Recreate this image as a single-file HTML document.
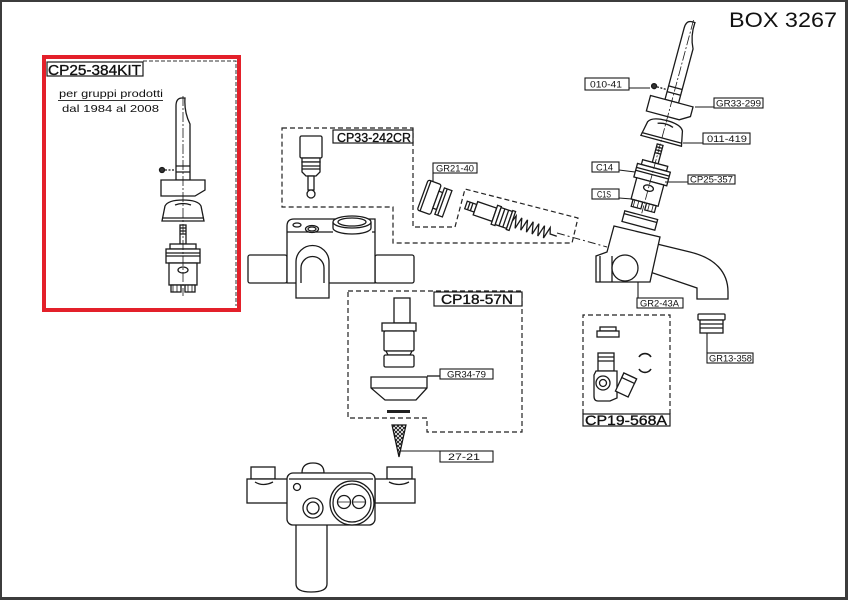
<!DOCTYPE html>
<html><head><meta charset="utf-8">
<style>
html,body{margin:0;padding:0;background:#fff;}
svg{display:block;}
text{font-family:"Liberation Sans",Arial,sans-serif;fill:#111;}
.big{stroke:#111;stroke-width:0.35;}
</style></head><body>
<svg width="848" height="600" viewBox="0 0 848 600" xmlns="http://www.w3.org/2000/svg" font-family="Liberation Sans, sans-serif">
<defs>
<pattern id="hatch" width="4" height="4" patternUnits="userSpaceOnUse">
<path d="M0,0 L4,4 M4,0 L0,4" stroke="#111" stroke-width="0.9"/>
</pattern>
<g id="kit" fill="#fff" stroke="#1a1a1a" stroke-width="1.3">
 <path d="M-7,82 V8 Q-7,0 -1,0 L2,0 Q1,14 7,26 V82 Z"/>
 <path d="M-7,68 H7 M-7,74 H7" fill="none"/>
 <circle cx="-21" cy="72" r="2.5" fill="#333"/>
 <path d="M-18,72 H-7" stroke-dasharray="2,1.5" fill="none"/>
 <path d="M-22,82 H22 V92 L12,98 H-22 Z"/>
 <path d="M-21,123 L-18,108 Q-15,102 0,102 Q15,102 18,108 L21,123 Z"/>
 <path d="M-21,120 H21" fill="none"/>
 <path d="M-8,107 Q0,104 8,107" fill="none"/>
 <rect x="-3" y="127" width="6" height="19"/>
 <path d="M-3,130 H3 M-3,133 H3 M-3,136 H3" fill="none"/>
 <rect x="-13" y="146" width="26" height="5"/>
 <rect x="-17" y="151" width="34" height="14"/>
 <path d="M-17,155 H17 M-17,158 H17" fill="none"/>
 <rect x="-14" y="165" width="28" height="22"/>
 <ellipse cx="0" cy="172" rx="5" ry="3"/>
 <rect x="-12" y="187" width="10" height="7"/>
 <rect x="2" y="187" width="10" height="7"/>
 <path d="M-10,187 V194 M-6,187 V194 M5,187 V194 M9,187 V194" fill="none" stroke-width="0.8"/>
 <path d="M0,-2 V198" fill="none" stroke-dasharray="10,2,2,2" stroke-width="0.8"/>
</g>
</defs>

<rect x="0" y="0" width="848" height="600" fill="#fff"/>

<!-- LEFT KIT -->
<path d="M143,61 H236 V306" fill="none" stroke="#333" stroke-width="1" stroke-dasharray="4,2"/>
<rect x="44" y="57" width="195" height="253" fill="none" stroke="#e3202a" stroke-width="4"/>
<rect x="47" y="62" width="96" height="14" fill="#fff" stroke="#1a1a1a" stroke-width="1.2"/>
<text class="big" x="48" y="75" font-size="15" textLength="93" lengthAdjust="spacingAndGlyphs">CP25-384KIT</text>
<text x="59" y="97" font-size="10.5" textLength="104" lengthAdjust="spacingAndGlyphs">per gruppi prodotti</text>
<line x1="58" y1="100.5" x2="163" y2="100.5" stroke="#333" stroke-width="1"/>
<text x="62" y="112" font-size="10.5" textLength="97" lengthAdjust="spacingAndGlyphs">dal 1984 al 2008</text>
<use href="#kit" transform="translate(183,98)"/>

<!-- RIGHT KIT -->
<use href="#kit" transform="translate(693,22) rotate(15)"/>
<g transform="translate(693,22) rotate(15)" fill="#fff" stroke="#1a1a1a" stroke-width="1.3">
 <path d="M-17,200 H17 V211 H-17 Z"/>
 <path d="M-17,203 H17" fill="none"/>
</g>
<text x="729" y="27" font-size="21" textLength="108" lengthAdjust="spacingAndGlyphs">BOX 3267</text>

<!-- spout body -->
<g fill="#fff" stroke="#1a1a1a" stroke-width="1.3">
 <path d="M657,244 L690,252 C715,258 728,272 728,292 L728,299 L697,299 L697,288 L650,272 Z"/>
 <path d="M614,226 L660,237 L650,282 L596,282 L596,256 L607,252 Z"/>
 <path d="M600,256 V282 M612,256 V282" fill="none"/>
 <circle cx="625" cy="268" r="13"/>
</g>

<!-- right labels -->
<g fill="#fff" stroke="#1a1a1a" stroke-width="1.1">
 <rect x="585" y="78" width="44" height="12"/>
 <rect x="714" y="98" width="49" height="10"/>
 <rect x="703" y="133" width="47" height="11"/>
 <rect x="592" y="162" width="27" height="10"/>
 <rect x="688" y="175" width="47" height="9"/>
 <rect x="592" y="189" width="27" height="10"/>
 <rect x="637" y="298" width="46" height="10"/>
 <path d="M629,88 H650 M695,107 H714 M683,143 H703 M619,170 L635,172 M665,182 H688 M619,198 L632,199 M638,282 V298" fill="none"/>
</g>
<g font-size="9.5">
 <text x="590" y="87.5" textLength="32" lengthAdjust="spacingAndGlyphs">010-41</text>
 <text x="716" y="106.5" textLength="45" lengthAdjust="spacingAndGlyphs">GR33-299</text>
 <text x="707" y="142" textLength="40" lengthAdjust="spacingAndGlyphs">011-419</text>
 <text x="596" y="170.5" textLength="17" lengthAdjust="spacingAndGlyphs">C14</text>
 <text x="690" y="182.5" textLength="43" lengthAdjust="spacingAndGlyphs">CP25-357</text>
 <text x="597" y="197.5" textLength="14" lengthAdjust="spacingAndGlyphs">C1S</text>
 <text x="640" y="306.5" textLength="39" lengthAdjust="spacingAndGlyphs">GR2-43A</text>
</g>

<!-- CP33-242CR group -->
<path d="M282,128 H413 V227 H455 L465,189 L578,218 L572,243 H393 V207 H282 Z" fill="none" stroke="#222" stroke-width="1.2" stroke-dasharray="5,3"/>
<rect x="333" y="130" width="80" height="13" fill="#fff" stroke="#1a1a1a" stroke-width="1.2"/>
<text class="big" x="337" y="142" font-size="13" textLength="74" lengthAdjust="spacingAndGlyphs">CP33-242CR</text>
<g fill="#fff" stroke="#1a1a1a" stroke-width="1.3">
 <rect x="300" y="136" width="22" height="22" rx="1.5"/>
 <rect x="302" y="158" width="18" height="4"/>
 <path d="M302,162 H320 V172 L316,176 H306 L302,172 Z"/>
 <path d="M302,166 H320 M302,169 H320" fill="none"/>
 <rect x="308" y="176" width="6" height="14"/>
 <circle cx="311" cy="194" r="4"/>
</g>
<path d="M557,233 L607,247" fill="none" stroke="#222" stroke-width="1" stroke-dasharray="8,3,2,3"/>

<!-- GR21-40 -->
<rect x="433" y="163" width="44" height="10" fill="#fff" stroke="#1a1a1a" stroke-width="1.1"/>
<text x="436" y="171.5" font-size="9.5" textLength="38" lengthAdjust="spacingAndGlyphs">GR21-40</text>
<path d="M433,173 V185" stroke="#1a1a1a" stroke-width="1.1"/>
<g transform="translate(434,199) rotate(20)" fill="#fff" stroke="#1a1a1a" stroke-width="1.3">
 <rect x="-12" y="-16" width="14" height="32" rx="2"/>
 <rect x="2" y="-9" width="4" height="18"/>
 <rect x="6" y="-14" width="8" height="28"/>
 <path d="M9,-14 V14 M-9,-16 V16" fill="none"/>
</g>

<!-- spring assembly -->
<g transform="translate(466,205) rotate(19)" fill="#fff" stroke="#1a1a1a" stroke-width="1.3">
 <rect x="0" y="-4" width="10" height="8"/>
 <path d="M3,-4 V4 M6,-4 V4" fill="none"/>
 <rect x="10" y="-7" width="20" height="14"/>
 <rect x="30" y="-10" width="4" height="20"/>
 <rect x="34" y="-9" width="12" height="18"/>
 <path d="M38,-9 V9 M42,-9 V9" fill="none"/>
 <rect x="46" y="-10" width="3" height="20"/>
 <polyline fill="none" points="49,0 51,-6 54,6 57,-6 60,6 63,-6 66,6 69,-6 72,6 75,-6 78,6 81,-6 84,6 87,-6 89,0 96,0"/>
</g>

<!-- main top body -->
<g fill="#fff" stroke="#1a1a1a" stroke-width="1.3">
 <rect x="248" y="255" width="39" height="28" rx="2"/>
 <rect x="375" y="255" width="39" height="28" rx="2"/>
 <path d="M287,283 V226 Q287,219 294,219 H375 V283 Z"/>
 <path d="M287,232 H333 M372,232 H375" fill="none"/>
 <path d="M333,222 V228 A19,6 0 0 0 371,228 V222" />
 <ellipse cx="352" cy="222" rx="19" ry="6"/>
 <ellipse cx="352" cy="222" rx="14" ry="4"/>
 <ellipse cx="297" cy="225" rx="4" ry="2"/>
 <ellipse cx="312" cy="229" rx="6.5" ry="3.5"/>
 <ellipse cx="312" cy="229" rx="4" ry="2"/>
 <path d="M296,298 V262 A16.5,16.5 0 0 1 329,262 V298 Z"/>
 <path d="M301,283 V268 A11.5,11.5 0 0 1 324,268 V283" fill="none"/>
</g>

<!-- CP18-57N -->
<path d="M348,291 H522 V432 H427 V418 H348 Z" fill="none" stroke="#222" stroke-width="1.2" stroke-dasharray="5,3"/>
<rect x="434" y="292" width="88" height="14" fill="#fff" stroke="#1a1a1a" stroke-width="1.2"/>
<text class="big" x="441" y="304" font-size="14" textLength="72" lengthAdjust="spacingAndGlyphs">CP18-57N</text>
<g fill="#fff" stroke="#1a1a1a" stroke-width="1.3">
 <rect x="394" y="298" width="16" height="25"/>
 <rect x="382" y="323" width="34" height="8"/>
 <rect x="384" y="331" width="30" height="20" rx="1.5"/>
 <path d="M386,351 H412 L410,355 H388 Z"/>
 <rect x="384" y="355" width="30" height="12" rx="1.5"/>
 <path d="M371,377 H427 V388 L416,400 H385 L371,388 Z"/>
 <path d="M371,388 H427" fill="none"/>
 <path d="M427,376 H440" fill="none"/>
</g>
<rect x="387" y="410" width="23" height="3" fill="#222"/>
<path d="M392,425 H406 L399,457 Z" fill="url(#hatch)" stroke="#111" stroke-width="1.2"/>
<path d="M400,451 H440" stroke="#1a1a1a" stroke-width="1.1"/>
<rect x="440" y="369" width="53" height="10" fill="#fff" stroke="#1a1a1a" stroke-width="1.1"/>
<text x="447" y="377.5" font-size="9.5" textLength="39" lengthAdjust="spacingAndGlyphs">GR34-79</text>
<rect x="440" y="451" width="53" height="11" fill="#fff" stroke="#1a1a1a" stroke-width="1.1"/>
<text x="448" y="460" font-size="9.5" textLength="32" lengthAdjust="spacingAndGlyphs">27-21</text>

<!-- CP19-568A -->
<path d="M583,414 V315 H670 V414" fill="none" stroke="#222" stroke-width="1.2" stroke-dasharray="5,3"/>
<rect x="583" y="414" width="87" height="12" fill="#fff" stroke="#1a1a1a" stroke-width="1.2"/>
<text class="big" x="585" y="425" font-size="14" textLength="82" lengthAdjust="spacingAndGlyphs">CP19-568A</text>
<g fill="#fff" stroke="#1a1a1a" stroke-width="1.3">
 <rect x="600" y="327" width="16" height="4"/>
 <rect x="597" y="331" width="22" height="6"/>
 <rect x="598" y="353" width="16" height="18"/>
 <path d="M598,357 H614 M598,361 H614" fill="none"/>
 <path d="M596,371 H617 V398 L610,401 H598 Q594,401 594,396 V375 Z"/>
 <circle cx="603" cy="383" r="7"/>
 <circle cx="603" cy="383" r="3.5"/>
 <g transform="translate(626,385) rotate(25)">
  <rect x="-7" y="-10" width="14" height="20"/>
  <rect x="-7" y="-10" width="14" height="5"/>
 </g>
 <path d="M639,357 A7,7 0 0 1 651,357 M651,369 A7,7 0 0 1 639,369" fill="none" stroke-width="1.6"/>
</g>

<!-- GR13-358 -->
<g fill="#fff" stroke="#1a1a1a" stroke-width="1.3">
 <rect x="698" y="314" width="27" height="6" rx="1"/>
 <rect x="700" y="320" width="23" height="13"/>
 <path d="M700,324 H723 M700,328 H723" fill="none"/>
 <path d="M707,333 V353" fill="none" stroke-width="1.1"/>
 <rect x="707" y="353" width="46" height="10" stroke-width="1.1"/>
</g>
<text x="709" y="361.5" font-size="9.5" textLength="43" lengthAdjust="spacingAndGlyphs">GR13-358</text>

<!-- bottom mixer -->
<g fill="#fff" stroke="#1a1a1a" stroke-width="1.3">
 <rect x="251" y="467" width="24" height="12"/>
 <rect x="247" y="479" width="41" height="24"/>
 <path d="M255,482 Q263,487 273,482" fill="none"/>
 <rect x="387" y="467" width="25" height="12"/>
 <rect x="375" y="479" width="40" height="24"/>
 <path d="M389,482 Q399,487 409,482" fill="none"/>
 <path d="M302,473 Q302,463 313,463 Q324,463 324,473 Z"/>
 <path d="M296,525 V584 Q296,592 311,592 Q327,592 327,584 V525"/>
 <rect x="287" y="473" width="88" height="52" rx="6"/>
 <path d="M289,479 H373" fill="none"/>
 <circle cx="297" cy="487" r="3.5"/>
 <circle cx="313" cy="508" r="10"/>
 <circle cx="313" cy="508" r="6"/>
 <circle cx="352" cy="503" r="22"/>
 <circle cx="352" cy="503" r="19"/>
 <circle cx="344" cy="502" r="6.5"/>
 <circle cx="359" cy="502" r="6.5"/>
 <path d="M337.5,502 H350.5 M352.5,502 H365.5" fill="none" stroke-width="0.8"/>
</g>

<!-- frame -->
<rect x="0" y="0" width="848" height="2" fill="#3c3c3c"/>
<rect x="0" y="0" width="2" height="600" fill="#3c3c3c"/>
<rect x="845" y="0" width="3" height="600" fill="#3c3c3c"/>
<rect x="0" y="597" width="848" height="3" fill="#3c3c3c"/>
</svg>
</body></html>
